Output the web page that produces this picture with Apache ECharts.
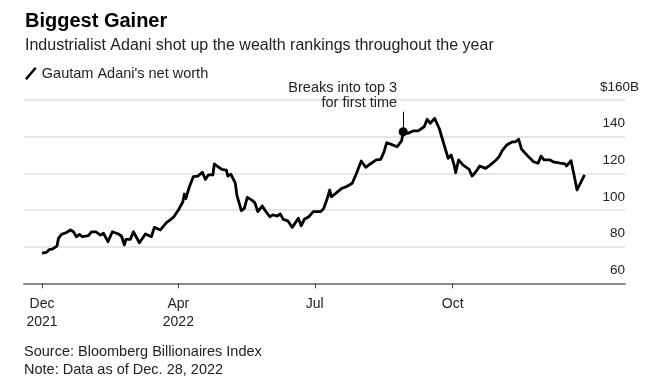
<!DOCTYPE html>
<html>
<head>
<meta charset="utf-8">
<script src="https://cdn.jsdelivr.net/npm/echarts@6/dist/echarts.min.js"></script>
<style>html,body{margin:0;padding:0;background:#fff;}#c{width:650px;height:384px;}</style>
</head>
<body>
<div id="c"></div>
<script>
const dates = ['2021-12-31','2022-01-03','2022-01-05','2022-01-07','2022-01-10','2022-01-11','2022-01-13','2022-01-16','2022-01-19','2022-01-21','2022-01-23','2022-01-25','2022-01-27','2022-01-31','2022-02-02','2022-02-05','2022-02-08','2022-02-10','2022-02-13','2022-02-16','2022-02-20','2022-02-22','2022-02-24','2022-02-25','2022-02-28','2022-03-02','2022-03-06','2022-03-10','2022-03-14','2022-03-16','2022-03-20','2022-03-24','2022-03-27','2022-03-29','2022-03-30','2022-04-01','2022-04-04','2022-04-05','2022-04-06','2022-04-08','2022-04-11','2022-04-14','2022-04-17','2022-04-19','2022-04-21','2022-04-24','2022-04-25','2022-04-28','2022-04-30','2022-05-03','2022-05-04','2022-05-06','2022-05-09','2022-05-10','2022-05-13','2022-05-15','2022-05-17','2022-05-20','2022-05-22','2022-05-24','2022-05-27','2022-05-29','2022-06-01','2022-06-03','2022-06-06','2022-06-08','2022-06-10','2022-06-13','2022-06-16','2022-06-20','2022-06-22','2022-06-24','2022-06-27','2022-06-30','2022-07-05','2022-07-07','2022-07-09','2022-07-11','2022-07-12','2022-07-15','2022-07-19','2022-07-22','2022-07-26','2022-07-29','2022-08-01','2022-08-04','2022-08-07','2022-08-11','2022-08-14','2022-08-16','2022-08-18','2022-08-21','2022-08-25','2022-08-28','2022-08-29','2022-09-01','2022-09-05','2022-09-08','2022-09-12','2022-09-14','2022-09-16','2022-09-19','2022-09-22','2022-09-25','2022-09-28','2022-09-30','2022-10-02','2022-10-03','2022-10-05','2022-10-08','2022-10-12','2022-10-14','2022-10-17','2022-10-19','2022-10-23','2022-10-26','2022-10-30','2022-11-01','2022-11-03','2022-11-06','2022-11-10','2022-11-12','2022-11-14','2022-11-16','2022-11-21','2022-11-24','2022-11-27','2022-11-29','2022-12-01','2022-12-05','2022-12-07','2022-12-12','2022-12-15','2022-12-16','2022-12-19','2022-12-21','2022-12-23','2022-12-28'];
const netWorth = [76.4,76.9,78.5,78.7,80.3,84.5,86.7,87.6,89.1,88.1,85.4,86.7,85.4,86.0,88.1,88.1,86.3,87.3,82.7,88.1,86.9,85.8,80.9,84.0,84.0,88.1,82.1,86.9,85.4,90.5,89.1,93.1,94.9,96.3,96.3,100.0,104.5,108.7,106.2,111.8,118.2,118.5,120.6,116.7,119.1,119.1,125.1,123.3,122.2,121.8,118.5,119.5,114.6,108.2,99.6,100.9,106.9,105.4,104.0,99.1,102.2,99.6,96.3,97.3,96.7,97.8,94.9,94.1,90.5,95.5,91.4,94.9,96.3,99.1,99.1,100.9,105.4,110.9,107.2,109.1,111.8,112.7,114.6,120.3,126.7,123.3,125.1,127.3,127.6,131.2,136.7,135.8,134.5,137.8,142.7,141.8,143.2,143.2,145.4,149.5,147.3,150.0,144.6,136.4,128.2,130.0,124.5,120.3,127.3,124.5,122.2,118.5,121.4,124.0,122.7,124.5,127.3,129.1,132.3,135.4,137.2,137.2,138.6,133.1,128.7,126.3,125.5,129.4,127.3,127.3,126.3,125.5,125.1,124.0,126.9,119.1,110.9,119.1];
const xTickDates = ['2021-12-31','2022-04-01','2022-07-01','2022-10-01'];
const xTickLabels = ['Dec\n2021','Apr\n2022','Jul','Oct'];
const xRange = ['2021-12-19','2023-01-24'];
const yTicks = [60,80,100,120,140,160];
const annotationDate = '2022-08-29';
const annotationText = 'Breaks into top 3\nfor first time';
const annotationTop = 153.6;

const FONT = '"Liberation Sans", Arial, sans-serif';
const toTime = s => Date.UTC(+s.slice(0,4), +s.slice(5,7) - 1, +s.slice(8,10));
const tickTimes = xTickDates.map(toTime);
const seriesData = dates.map((d, i) => [toTime(d), netWorth[i]]);
const aIdx = dates.indexOf(annotationDate);
const aTime = toTime(dates[aIdx]);
const aVal = netWorth[aIdx];

const chart = echarts.init(document.getElementById('c'), null, {renderer: 'canvas'});
chart.setOption({
  animation: false,
  backgroundColor: '#fff',
  textStyle: {fontFamily: FONT},
  title: [
    {
      text: 'Biggest Gainer',
      subtext: 'Industrialist Adani shot up the wealth rankings throughout the year',
      left: 20, top: 6,
      itemGap: 5,
      textStyle: {fontFamily: FONT, fontSize: 20, fontWeight: 'bold', color: '#000', lineHeight: 21},
      subtextStyle: {fontFamily: FONT, fontSize: 16, color: '#222', lineHeight: 17}
    },
    {
      text: 'Source: Bloomberg Billionaires Index\nNote: Data as of Dec. 28, 2022',
      left: 19, top: 338,
      textStyle: {fontFamily: FONT, fontSize: 14.5, fontWeight: 'normal', color: '#222', lineHeight: 18}
    }
  ],
  legend: {
    left: 20, top: 61,
    itemWidth: 12, itemHeight: 13, itemGap: 6,
    icon: 'path://M0,12 L10,0.2 L12,1.8 L2,13.6 Z',
    textStyle: {fontFamily: FONT, fontSize: 14.5, color: '#222'},
    data: ["Gautam Adani's net worth"]
  },
  grid: {left: 24, right: 25, top: 100, bottom: 100.7, containLabel: false},
  xAxis: {
    type: 'value',
    min: toTime(xRange[0]),
    max: toTime(xRange[1]),
    axisLine: {show: true, lineStyle: {color: '#8a8a8a', width: 2}},
    axisTick: {show: true, length: 5, customValues: tickTimes, lineStyle: {color: '#444', width: 1}},
    splitLine: {show: false},
    axisLabel: {
      customValues: tickTimes,
      margin: 12,
      fontSize: 14, lineHeight: 18, color: '#222', fontFamily: FONT,
      formatter: function (v) {
        for (let i = 0; i < tickTimes.length; i++) {
          if (Math.abs(tickTimes[i] - v) < 43200000) return xTickLabels[i];
        }
        return '';
      }
    }
  },
  yAxis: {
    type: 'value',
    position: 'right',
    min: yTicks[0], max: yTicks[yTicks.length - 1], interval: 20,
    axisLine: {show: false},
    axisTick: {show: false},
    splitLine: {show: true, lineStyle: {color: '#dedede', width: 1.5}},
    axisLabel: {
      inside: true,
      margin: -14,
      align: 'right',
      verticalAlign: 'bottom',
      padding: [0, 0, 6, 0],
      fontSize: 13.5, color: '#222', fontFamily: FONT,
      formatter: function (v) {
        return v === yTicks[yTicks.length - 1] ? '$' + v + 'B' : v + '{s|}';
      },
      rich: {s: {width: 14}}
    }
  },
  series: [{
    name: "Gautam Adani's net worth",
    type: 'line',
    data: seriesData,
    showSymbol: false,
    symbol: 'none',
    color: '#000',
    lineStyle: {color: '#000', width: 2.8, join: 'round'},
    markLine: {
      silent: true,
      symbol: ['none', 'none'],
      label: {show: false},
      lineStyle: {color: '#000', width: 1, type: 'solid'},
      data: [[{coord: [aTime, aVal]}, {coord: [aTime, annotationTop]}]]
    },
    markPoint: {
      silent: true,
      data: [
        {coord: [aTime, aVal], symbol: 'circle', symbolSize: 9, itemStyle: {color: '#000'}, label: {show: false}},
        {coord: [aTime, annotationTop], symbol: 'circle', symbolSize: 0,
          label: {show: true, position: 'left', distance: 6, offset: [0, -16], align: 'right',
            formatter: annotationText, fontSize: 14.5, lineHeight: 15.5, color: '#222', fontFamily: FONT}}
      ]
    }
  }]
});
</script>
</body>
</html>
